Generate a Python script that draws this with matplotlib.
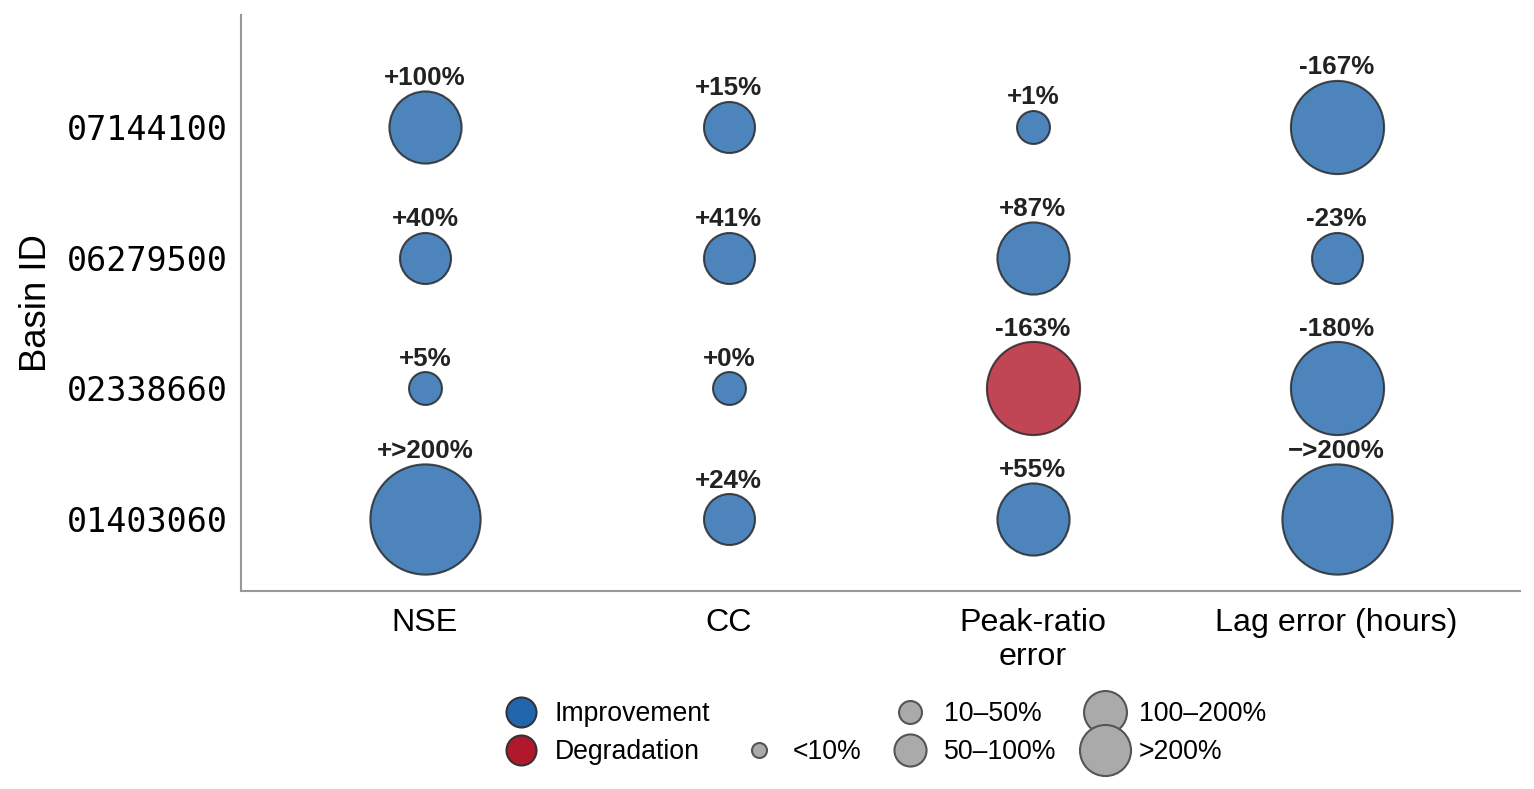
import matplotlib
matplotlib.use("Agg")
import matplotlib.pyplot as plt
from matplotlib.lines import Line2D
import numpy as np

# data: relative change of each metric per basin (inf = beyond 200%)
metrics = ["NSE", "CC", "Peak-ratio\nerror", "Lag error (hours)"]
basins = ["01403060", "02338660", "06279500", "07144100"]  # bottom -> top
change = [
    [np.inf, 24, 55, -np.inf],   # 01403060
    [5, 0, -163, -180],          # 02338660
    [40, 41, 87, -23],           # 06279500
    [100, 15, 1, -167],          # 07144100
]
improved = [
    [True, True, True, True],
    [True, True, False, True],
    [True, True, True, True],
    [True, True, True, True],
]
bin_labels = ["<10%", "10\u201350%", "50\u2013100%", "100\u2013200%", ">200%"]
bin_edges = [10, 50, 100, 200]
bin_sizes = [250, 600, 1200, 2000, 2800]

col_up = "#2166ac"
col_down = "#b2182b"

plt.rcParams["font.family"] = ["Liberation Sans", "DejaVu Sans"]

fig = plt.figure(figsize=(1535 / 150, 789 / 150), dpi=150)
ax = fig.add_axes([0.157, 0.251, 0.833, 0.730])


def size_bin(v):
    a = abs(v)
    if a < 10:
        return 0
    for i, e in enumerate(bin_edges[1:], start=1):
        if a <= e:
            return i
    return len(bin_edges)


def fmt(v):
    if np.isinf(v):
        return ("+" if v > 0 else "\u2212") + ">200%"
    return f"{v:+.0f}%" if v >= 0 else f"{v:.0f}%"


for yi, row in enumerate(change):
    for xi, v in enumerate(row):
        s = bin_sizes[size_bin(v)]
        c = col_up if improved[yi][xi] else col_down
        ax.scatter(xi, yi, s=s, color=c, alpha=0.8, edgecolor="#222222",
                   linewidth=1.0, zorder=3)
        r = np.sqrt(s) / 2
        ax.annotate(fmt(v), (xi, yi), xytext=(0, r + 0.5), textcoords="offset points",
                    ha="center", va="bottom", fontsize=12.5, fontweight="bold",
                    color="#222222")

ax.set_xlim(-0.605, 3.602)
ax.set_ylim(-0.55, 3.857)
ax.set_xticks(range(len(metrics)))
ax.set_xticklabels(metrics, fontsize=15.5)
ax.set_yticks(range(len(basins)))
ax.set_yticklabels(basins, fontsize=16, family="DejaVu Sans Mono")
ax.tick_params(axis="x", length=0, pad=8)
ax.tick_params(axis="y", length=0, pad=6.5)
ax.set_ylabel("Basin ID", fontsize=17.5, labelpad=6)
for sp in ["top", "right"]:
    ax.spines[sp].set_visible(False)
for sp in ["left", "bottom"]:
    ax.spines[sp].set_color("#999999")
    ax.spines[sp].set_linewidth(1.0)

# legend: colour entries then size entries, laid out in 4 columns
leg_ms = [7.2, 11, 15.4, 20.6, 24.5]
h_up = Line2D([], [], marker="o", ls="", color=col_up, markeredgecolor="#333333",
              markersize=14.4, markeredgewidth=1.0)
h_down = Line2D([], [], marker="o", ls="", color=col_down, markeredgecolor="#333333",
                markersize=14.4, markeredgewidth=1.0)
h_blank = Line2D([], [], ls="", marker="")
size_h = [Line2D([], [], marker="o", ls="", color="#aaaaaa", markeredgecolor="#555555",
                 markersize=m, markeredgewidth=1.0) for m in leg_ms]
handles = [h_up, h_down, h_blank, size_h[0], size_h[1], size_h[2], size_h[3], size_h[4]]
labels = ["Improvement", "Degradation", " ", bin_labels[0], bin_labels[1],
          bin_labels[2], bin_labels[3], bin_labels[4]]
ax.legend(handles, labels, loc="upper center", bbox_to_anchor=(0.5, -0.15),
          ncol=4, frameon=False, fontsize=12.8, labelspacing=0.45,
          columnspacing=0.83, handletextpad=0.26)

fig.savefig("out.png", dpi=150)
